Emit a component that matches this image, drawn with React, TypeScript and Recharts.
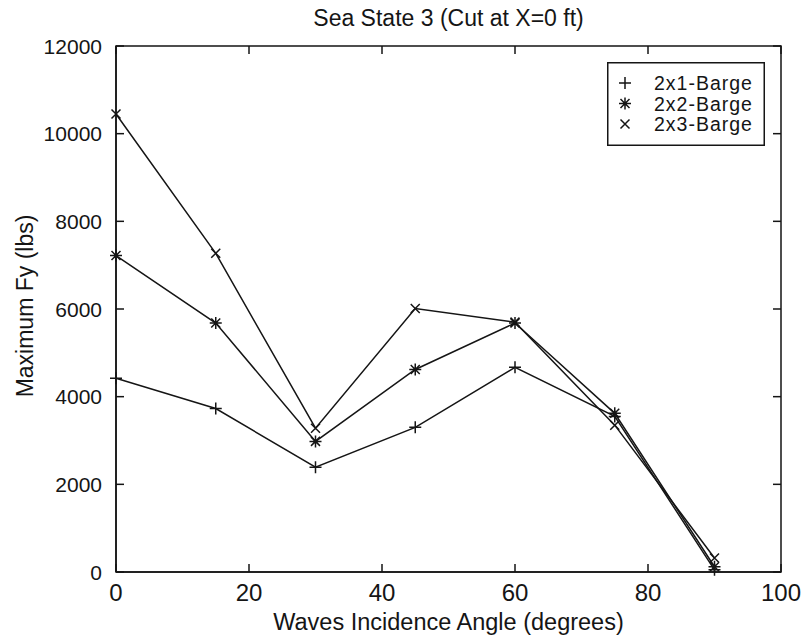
import React from 'react';
import { LineChart, Line, XAxis, YAxis, Legend, Label, ReferenceArea } from 'recharts';

// Incidence angles (degrees) and peak lateral force Fy (lbs) per barge layout
const angles = [0, 15, 30, 45, 60, 75, 90];
const barge2x1 = [4420, 3730, 2390, 3300, 4670, 3550, 50];
const barge2x2 = [7220, 5680, 2980, 4620, 5680, 3620, 120];
const barge2x3 = [10450, 7270, 3280, 6010, 5700, 3350, 320];

const xTicks = [0, 20, 40, 60, 80, 100];
const yTicks = [0, 2000, 4000, 6000, 8000, 10000, 12000];

const seriesNames = ['2x1-Barge', '2x2-Barge', '2x3-Barge'];

const rows = angles.map((a, i) => ({
  angle: a,
  b1: barge2x1[i],
  b2: barge2x2[i],
  b3: barge2x3[i],
}));

// Figure layout
const W = 805;
const H = 643;
const MARGIN = { top: 46, right: 24, bottom: 0, left: 0 };
const Y_AXIS_W = 116;
const X_AXIS_H = 71;
const PLOT_LEFT = MARGIN.left + Y_AXIS_W;
const PLOT_RIGHT = W - MARGIN.right;
const PLOT_TOP = MARGIN.top;
const PLOT_BOTTOM = H - MARGIN.bottom - X_AXIS_H;
const TICK_LEN = 8;

const FONT = '"Liberation Sans", Arial, Helvetica, sans-serif';
const INK = '#151515';
const M = 6;

type Mk = 'plus' | 'star' | 'cross';

function markerPath(kind: Mk, cx: number, cy: number, r: number): string {
  const plus = `M${cx - r},${cy}L${cx + r},${cy}M${cx},${cy - r}L${cx},${cy + r}`;
  const d = r * 0.75;
  const cross = `M${cx - d},${cy - d}L${cx + d},${cy + d}M${cx - d},${cy + d}L${cx + d},${cy - d}`;
  if (kind === 'plus') return plus;
  if (kind === 'cross') return cross;
  return plus + cross;
}

const makeDot = (kind: Mk) => (props: any) => {
  const { cx, cy, index } = props;
  if (cx == null || cy == null) return <g key={`n-${index}`} />;
  return (
    <path
      key={`${kind}-${index}`}
      d={markerPath(kind, cx, cy, M)}
      stroke={INK}
      strokeWidth={1.5}
      fill="none"
    />
  );
};

const kinds: Mk[] = ['plus', 'star', 'cross'];

// Bottom axis tick: label below, inward tick marks on bottom and top edges
const XTick = (props: any) => {
  const { x, y, payload } = props;
  return (
    <g>
      <line x1={x} y1={PLOT_BOTTOM} x2={x} y2={PLOT_BOTTOM - TICK_LEN} stroke={INK} strokeWidth={1.5} />
      <line x1={x} y1={PLOT_TOP} x2={x} y2={PLOT_TOP + TICK_LEN} stroke={INK} strokeWidth={1.5} />
      <text x={x} y={y} dy="0.71em" textAnchor="middle" fontSize={24} fontFamily={FONT} fill={INK}>
        {payload.value}
      </text>
    </g>
  );
};

// Left axis tick: label to the left, inward tick marks on left and right edges
const YTick = (props: any) => {
  const { x, y, payload } = props;
  return (
    <g>
      <line x1={PLOT_LEFT} y1={y} x2={PLOT_LEFT + TICK_LEN} y2={y} stroke={INK} strokeWidth={1.5} />
      <line x1={PLOT_RIGHT} y1={y} x2={PLOT_RIGHT - TICK_LEN} y2={y} stroke={INK} strokeWidth={1.5} />
      <text x={x} y={y} dy="0.36em" textAnchor="end" fontSize={21} fontFamily={FONT} fill={INK}>
        {payload.value}
      </text>
    </g>
  );
};

const TitleLabel = (props: any) => {
  const vb = props.viewBox || {};
  const cx = (vb.x ?? PLOT_LEFT) + (vb.width ?? PLOT_RIGHT - PLOT_LEFT) / 2;
  return (
    <text x={cx} y={26} textAnchor="middle" fontSize={23} fontFamily={FONT} fill={INK}>
      Sea State 3 (Cut at X=0 ft)
    </text>
  );
};

const YLabel = (props: any) => {
  const vb = props.viewBox || {};
  const x = 33;
  const y = (vb.y ?? PLOT_TOP) + (vb.height ?? PLOT_BOTTOM - PLOT_TOP) / 2 - 3;
  return (
    <text
      x={x}
      y={y}
      transform={`rotate(-90, ${x}, ${y})`}
      textAnchor="middle"
      fontSize={23}
      fontFamily={FONT}
      fill={INK}
    >
      Maximum Fy (lbs)
    </text>
  );
};

const LegendBox = () => (
  <svg width={158} height={84} style={{ display: 'block' }}>
    <rect x={0.75} y={0.75} width={156.5} height={82.5} fill="#fff" stroke={INK} strokeWidth={1.5} />
    {seriesNames.map((name, i) => {
      const cy = 21 + i * 20.5;
      return (
        <g key={name}>
          <path d={markerPath(kinds[i], 18, cy, M)} stroke={INK} strokeWidth={1.5} fill="none" />
          <text
            x={47}
            y={cy}
            dy="0.36em"
            fontSize={19.5}
            letterSpacing={1}
            fontFamily={FONT}
            fill={INK}
          >
            {name}
          </text>
        </g>
      );
    })}
  </svg>
);

export default function App() {
  return (
    <div style={{ position: 'absolute', left: 0, top: 0, width: W, height: H, background: '#fff' }}>
      <LineChart width={W} height={H} data={rows} margin={MARGIN}>
        <XAxis
          xAxisId="b"
          dataKey="angle"
          type="number"
          domain={[0, 100]}
          ticks={xTicks}
          height={X_AXIS_H}
          tickLine={false}
          tickSize={0}
          tickMargin={12}
          stroke={INK}
          strokeWidth={1.5}
          tick={XTick}
        >
          <Label
            value="Waves Incidence Angle (degrees)"
            position="insideBottom"
            offset={13}
            fontSize={23.5}
            fill={INK}
            fontFamily={FONT}
          />
          <Label content={TitleLabel} />
        </XAxis>
        <YAxis
          yAxisId="l"
          type="number"
          domain={[0, 12000]}
          ticks={yTicks}
          width={Y_AXIS_W}
          tickLine={false}
          tickSize={0}
          tickMargin={14}
          stroke={INK}
          strokeWidth={1.5}
          tick={YTick}
        >
          <Label content={YLabel} />
        </YAxis>
        <ReferenceArea
          xAxisId="b"
          yAxisId="l"
          x1={0}
          x2={100}
          y1={0}
          y2={12000}
          fill="none"
          fillOpacity={0}
          stroke={INK}
          strokeWidth={1.5}
        />
        <Legend
          layout="horizontal"
          verticalAlign="middle"
          align="center"
          wrapperStyle={{ left: 607, top: 62, width: 158, height: 84 }}
          content={() => <LegendBox />}
        />
        {(['b1', 'b2', 'b3'] as const).map((key, i) => (
          <Line
            key={key}
            xAxisId="b"
            yAxisId="l"
            dataKey={key}
            name={seriesNames[i]}
            type="linear"
            stroke={INK}
            strokeWidth={1.5}
            dot={makeDot(kinds[i])}
            activeDot={false}
            isAnimationActive={false}
          />
        ))}
      </LineChart>
    </div>
  );
}
